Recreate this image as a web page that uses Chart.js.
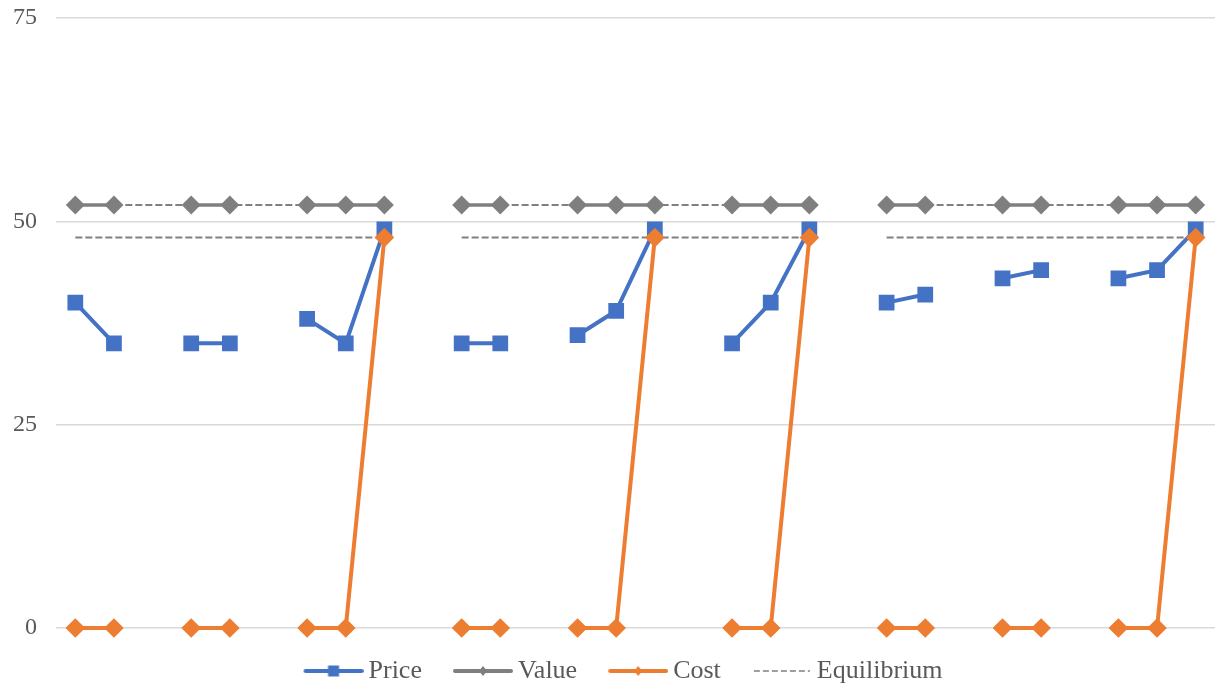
<!DOCTYPE html>
<html>
<head>
<meta charset="utf-8">
<script src="https://cdn.jsdelivr.net/npm/chart.js@4.4.1/dist/chart.umd.min.js"></script>
<style>
  html, body { margin: 0; padding: 0; background: #fff; }
  #wrap { width: 1215px; height: 690px; position: relative; }
</style>
</head>
<body>
<div id="wrap"><canvas id="grafico"></canvas></div>
<script>
// 30 categorias: 3 rodadas, com buracos (null) entre os subgrupos
const categorias = ["1","2","","3","4","","5","6","7","",
                    "8","9","","10","11","12","","13","14","15","",
                    "16","17","","18","19","","20","21","22"];
const preco = [40,35,null,35,35,null,38,35,49,null,
               35,35,null,36,39,49,null,35,40,49,null,
               40,41,null,43,44,null,43,44,49];
const valor = [52,52,null,52,52,null,52,52,52,null,
               52,52,null,52,52,52,null,52,52,52,null,
               52,52,null,52,52,null,52,52,52];
const custo = [0,0,null,0,0,null,0,0,48,null,
               0,0,null,0,0,48,null,0,0,48,null,
               0,0,null,0,0,null,0,0,48];
const equilibrio = [48,48,48,48,48,48,48,48,48,null,
                    48,48,48,48,48,48,48,48,48,48,null,
                    48,48,48,48,48,48,48,48,48];
const equilibrioValor = [52,52,52,52,52,52,52,52,52,null,
                         52,52,52,52,52,52,52,52,52,52,null,
                         52,52,52,52,52,52,52,52,52];
const ticksY = [0, 25, 50, 75];

const azul = "#4472C4", cinza = "#7F7F7F", laranja = "#ED7D31";
const fonte = "'Liberation Serif', 'DejaVu Serif', serif";

// icone da legenda: linha com marcador (margem transparente a esquerda)
function iconeLegenda(cor, marcador, tracejado) {
  const c = document.createElement("canvas");
  c.width = 69; c.height = 14;
  const ctx = c.getContext("2d");
  const x0 = 9;
  ctx.strokeStyle = cor;
  if (tracejado) {
    ctx.lineWidth = 1.5;
    ctx.setLineDash([6, 3]);
    ctx.beginPath(); ctx.moveTo(x0 + 2, 7); ctx.lineTo(x0 + 58, 7); ctx.stroke();
  } else {
    ctx.lineWidth = 4;
    ctx.lineCap = "round";
    ctx.beginPath(); ctx.moveTo(x0 + 2, 7); ctx.lineTo(x0 + 58, 7); ctx.stroke();
  }
  ctx.fillStyle = cor;
  if (marcador == "rect") ctx.fillRect(x0 + 24.5, 1.5, 11, 11);
  if (marcador == "rectRot") {
    ctx.beginPath();
    ctx.moveTo(x0 + 30, 2); ctx.lineTo(x0 + 34, 7); ctx.lineTo(x0 + 30, 12); ctx.lineTo(x0 + 26, 7);
    ctx.closePath(); ctx.fill();
  }
  return c;
}

// legenda centrada como no Excel (um pouco para a direita)
const ajusteLegenda = {
  id: "ajusteLegenda",
  afterLayout: function(chart) {
    if (chart.legend) chart.legend.left += 30;
  }
};

let grafico = new Chart(document.getElementById("grafico"), {
  type: "line",
  data: {
    labels: categorias,
    datasets: [
      { label: "Price", data: preco, borderColor: azul, backgroundColor: azul,
        borderWidth: 4, pointStyle: "rect", pointRadius: 8.3, pointHoverRadius: 8.3,
        spanGaps: false, order: 1, tension: 0, clip: false },
      { label: "Value", data: valor, borderColor: cinza, backgroundColor: cinza,
        borderWidth: 3.5, pointStyle: "rectRot", pointRadius: 7, pointHoverRadius: 7,
        spanGaps: false, order: 2, tension: 0, clip: false },
      { label: "Cost", data: custo, borderColor: laranja, backgroundColor: laranja,
        borderWidth: 4, pointStyle: "rectRot", pointRadius: 7, pointHoverRadius: 7,
        spanGaps: false, order: 0, tension: 0, clip: false },
      { label: "Equilibrium", data: equilibrio, borderColor: "#808080", borderWidth: 2,
        borderDash: [7, 3], pointRadius: 0, spanGaps: false, order: 3, tension: 0 },
      { label: "Equilibrium52", data: equilibrioValor, borderColor: "#808080", borderWidth: 2,
        borderDash: [7, 3], pointRadius: 0, spanGaps: false, order: 4, tension: 0 }
    ]
  },
  plugins: [ajusteLegenda],
  options: {
    responsive: true,
    maintainAspectRatio: false,
    animation: false,
    layout: { autoPadding: false, padding: { top: 18, right: 0, left: 0, bottom: -4 } },
    plugins: {
      tooltip: { enabled: false },
      legend: {
        position: "bottom",
        labels: {
          usePointStyle: true,
          pointStyleWidth: 53,
          boxHeight: 14,
          padding: 30,
          color: "#595959",
          font: { family: fonte, size: 26 },
          generateLabels: function(chart) {
            const icones = [iconeLegenda(azul, "rect"), iconeLegenda(cinza, "rectRot"),
                            iconeLegenda(laranja, "rectRot"), iconeLegenda("#808080", null, true)];
            return [0, 1, 2, 3].map(i => ({
              text: chart.data.datasets[i].label,
              fillStyle: "transparent",
              strokeStyle: "transparent",
              lineWidth: 0,
              pointStyle: icones[i],
              hidden: false,
              datasetIndex: i,
              fontColor: "#595959"
            }));
          }
        }
      }
    },
    scales: {
      x: {
        offset: true,
        display: false
      },
      y: {
        min: 0, max: 75,
        afterFit: function(scale) {
          scale.width = 56;
          scale.paddingTop = 0;
          scale.paddingBottom = 0;
        },
        afterBuildTicks: function(scale) { scale.ticks = ticksY.map(v => ({ value: v })); },
        border: { display: false },
        grid: { color: "#D9D9D9", lineWidth: 1.5, drawTicks: false },
        ticks: { color: "#595959", padding: 19, font: { family: fonte, size: 24 } }
      }
    }
  }
});
</script>
</body>
</html>
